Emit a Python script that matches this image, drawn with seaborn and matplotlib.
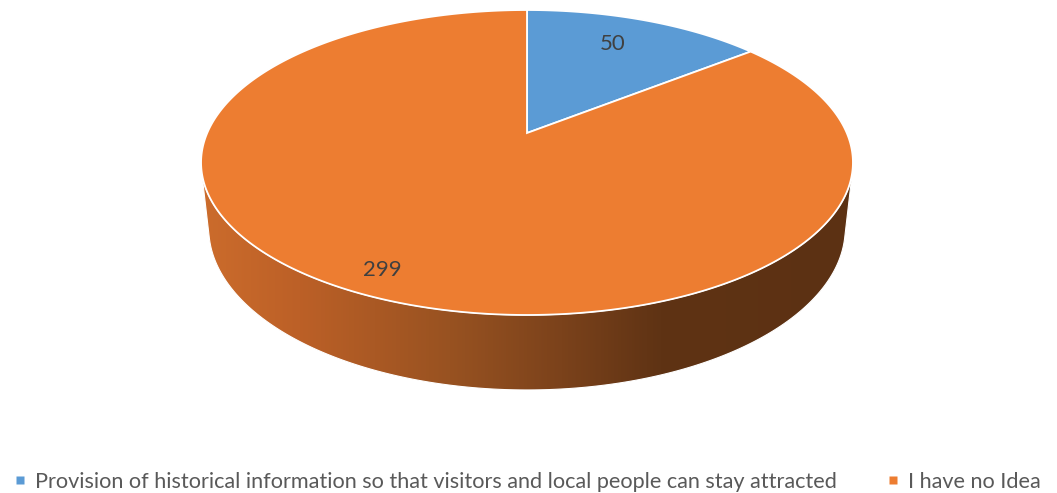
import numpy as np
import matplotlib
matplotlib.use("Agg")
import matplotlib.pyplot as plt
from matplotlib.patches import Polygon
from matplotlib.lines import Line2D
from matplotlib.colors import LinearSegmentedColormap
import seaborn as sns

# ---- data -------------------------------------------------------------
categories = [
    "Provision of historical information so that visitors and local people can stay attracted",
    "I have no Idea",
]
counts = [50, 299]
slice_colors = ["#5B9BD5", "#ED7D31"]

# ---- style ------------------------------------------------------------
sns.set_style("white")
plt.rcParams["font.family"] = ["Lato", "DejaVu Sans"]
palette = sns.color_palette(slice_colors)

W, H = 1057, 493
fig = plt.figure(figsize=(W / 100, H / 100), dpi=100)
ax = fig.add_axes([0, 0, 1, 1])
ax.set_xlim(0, W)
ax.set_ylim(H, 0)
ax.set_aspect("auto")
ax.axis("off")

# ---- perspective camera for a flat cylinder (the 3-D pie) ----------------
CX, CY = 527.0, 133.0          # screen position of the pie centre
elev = np.arcsin(0.4590)        # camera elevation
dist = 4.593                    # camera distance, in pie radii
focal = 1468.8                  # focal length, pixels
depth = 0.234                   # pie thickness, in pie radii


def project(u, v, w):
    z = dist + v * np.cos(elev) - w * np.sin(elev)
    X = CX + focal * u / z
    Y = CY - focal * (v * np.sin(elev) + w * np.cos(elev)) / z
    return X, Y


# slice angles: start at 12 o'clock, run clockwise
fractions = np.array(counts, dtype=float) / np.sum(counts)
bounds = np.pi / 2 - 2 * np.pi * np.concatenate([[0], np.cumsum(fractions)])

# visible part of the side wall lies between the two silhouette lines
s = np.arcsin(1.0 / (dist * np.cos(elev)))
vis_lo, vis_hi = -np.pi + s, -s

# colour ramp across the side wall (by screen x)
wall_cmap = LinearSegmentedColormap.from_list(
    "wall",
    [(0.00, "#CC6C2C"), (0.15, "#BC6027"), (0.38, "#985221"),
     (0.55, "#7B421B"), (0.70, "#5F3314"), (1.00, "#5C3113")],
)
ramp = np.linspace(0, 1, 512)[None, :]

for i in range(len(counts)):
    a_start, a_end = bounds[i], bounds[i + 1]   # a_start > a_end
    for shift in (-2 * np.pi, 0.0, 2 * np.pi):
        lo = max(a_end + shift, vis_lo)
        hi = min(a_start + shift, vis_hi)
        if hi <= lo:
            continue
        t = np.linspace(lo, hi, 200)
        xt, yt = project(np.cos(t), np.sin(t), 0.0)
        xb, yb = project(np.cos(t), np.sin(t), -depth)
        pts = np.column_stack([np.r_[xt, xb[::-1]], np.r_[yt, yb[::-1]]])
        wall = Polygon(pts, closed=True, facecolor="none",
                       edgecolor="white", linewidth=0.8, zorder=2)
        ax.add_patch(wall)
        img = ax.imshow(ramp, cmap=wall_cmap, aspect="auto",
                        extent=(200, 858, 400, 120), zorder=1,
                        interpolation="bilinear")
        img.set_clip_path(wall)

# top face slices
for i in range(len(counts)):
    t = np.linspace(bounds[i], bounds[i + 1], 400)
    xs, ys = project(np.cos(t), np.sin(t), 0.0)
    x0, y0 = project(0.0, 0.0, 0.0)
    pts = np.column_stack([np.r_[x0, xs], np.r_[y0, ys]])
    ax.add_patch(Polygon(pts, closed=True, facecolor=palette[i],
                         edgecolor="white", linewidth=1.3,
                         joinstyle="miter", zorder=3))

# value labels
label_radius = [0.75, 0.88]
label_turn = [0.035, 0.0]
for i, n in enumerate(counts):
    mid = 0.5 * (bounds[i] + bounds[i + 1]) + label_turn[i]
    lx, ly = project(label_radius[i] * np.cos(mid),
                     label_radius[i] * np.sin(mid), 0.0)
    ax.text(lx, ly, f"{n}", ha="center", va="center",
            fontsize=16, color="#404040", zorder=5)

# legend
handles = [Line2D([], [], marker="s", linestyle="none", markersize=5.6,
                  markerfacecolor=palette[i], markeredgecolor="none")
           for i in range(len(counts))]
ax.legend(handles, categories, loc="center",
          bbox_to_anchor=(527 / W, 1 - 482 / H), ncol=2, frameon=False,
          fontsize=15.6, labelcolor="#595959", handlelength=0.6,
          handletextpad=0.4, columnspacing=2.3, borderpad=0,
          borderaxespad=0)

fig.savefig("out.png", dpi=100)
